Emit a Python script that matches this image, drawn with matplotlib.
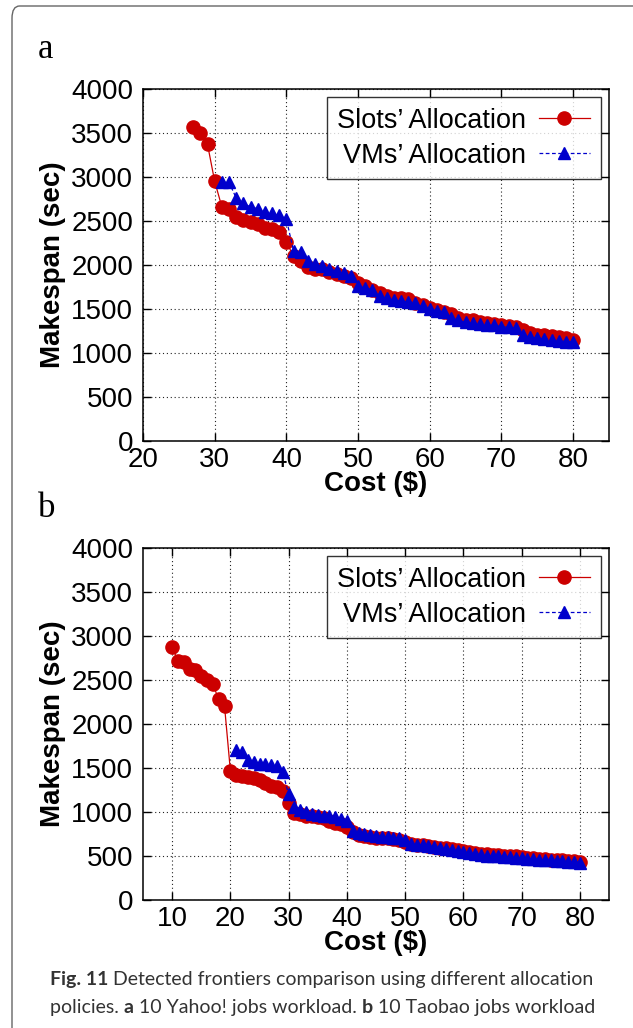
import numpy as np
import matplotlib
matplotlib.use("Agg")
from matplotlib import pyplot as plt
from matplotlib.patches import FancyBboxPatch

# panel a: 10 Yahoo! jobs workload
cost_slots_a = list(range(27, 81))
span_slots_a = [3570, 3500, 3370, 2950, 2660, 2640, 2545, 2510, 2490, 2470,
                2415, 2405, 2370, 2260, 2100, 2040, 1980, 1960, 1950, 1920,
                1900, 1880, 1850, 1790, 1760, 1720, 1680, 1650, 1630, 1620,
                1610, 1570, 1540, 1510, 1490, 1470, 1440, 1400, 1380, 1370,
                1355, 1345, 1330, 1320, 1310, 1290, 1260, 1230, 1210, 1200,
                1195, 1185, 1175, 1150]
cost_vms_a = list(range(31, 81))
span_vms_a = [2940, 2940, 2760, 2700, 2660, 2640, 2600, 2590, 2565, 2520,
              2160, 2150, 2040, 2010, 1990, 1960, 1930, 1910, 1880, 1760,
              1740, 1720, 1650, 1620, 1600, 1590, 1580, 1570, 1530, 1500,
              1480, 1470, 1400, 1370, 1350, 1340, 1330, 1320, 1315, 1300,
              1290, 1280, 1200, 1180, 1170, 1160, 1150, 1140, 1130, 1130]

# panel b: 10 Taobao jobs workload
cost_slots_b = list(range(10, 81))
span_slots_b = [2870, 2720, 2710, 2620, 2610, 2550, 2500, 2450, 2280, 2200,
                1470, 1420, 1410, 1400, 1390, 1360, 1330, 1300, 1280, 1240,
                1100, 990, 980, 960, 950, 940, 930, 900, 880, 860,
                830, 770, 740, 730, 720, 710, 705, 700, 690, 680,
                660, 640, 630, 620, 610, 600, 595, 590, 580, 570,
                560, 545, 535, 525, 520, 515, 510, 505, 500, 495,
                490, 480, 475, 470, 465, 460, 455, 450, 445, 440,
                430]
cost_vms_b = list(range(21, 81))
span_vms_b = [1700, 1680, 1590, 1570, 1550, 1540, 1530, 1520, 1450, 1200,
              1060, 1020, 1000, 980, 970, 960, 950, 940, 920, 900,
              780, 760, 750, 740, 730, 720, 715, 710, 700, 680,
              640, 630, 620, 610, 600, 590, 580, 570, 560, 550,
              530, 520, 510, 505, 500, 495, 490, 485, 480, 475,
              470, 465, 460, 455, 450, 445, 440, 435, 430, 425]

yticks = [0, 500, 1000, 1500, 2000, 2500, 3000, 3500, 4000]
xticks_a = [20, 30, 40, 50, 60, 70, 80]
xticks_b = [10, 20, 30, 40, 50, 60, 70, 80]

RED = "#cc0000"
BLUE = "#0000cc"
SANS = "Liberation Sans"
W, H = 633, 1028

fig = plt.figure(figsize=(6.33, 10.28), dpi=100)

# rounded page frame
frame = FancyBboxPatch((12 / W, -0.05), 1.2, 1 - 6 / H + 0.05,
                       boxstyle="round,pad=0,rounding_size=0.012",
                       transform=fig.transFigure, fill=False,
                       edgecolor="#666666", linewidth=1.0, clip_on=False)
fig.patches.append(frame)


def panel(rect, cs, ss, cv, sv, xlim, xticks, letter, letter_y):
    ax = fig.add_axes(rect)
    ax.plot(cs, ss, color=RED, lw=0.9, marker="o", ms=9.5, mec=RED,
            label="Slots\u2019 Allocation", zorder=3)
    ax.plot(cv, sv, color=BLUE, lw=0.9, ls=(0, (3, 2)), marker="^", ms=8.5,
            mec=BLUE, label="VMs\u2019 Allocation", zorder=4)
    ax.set_xlim(*xlim)
    ax.set_ylim(0, 4000)
    ax.set_xticks(xticks)
    ax.set_yticks(yticks)
    ax.grid(True, ls=(0, (1, 2.5)), color="#222222", lw=0.8)
    ax.tick_params(direction="in", length=6, width=1, top=True, right=True,
                   labelsize=20)
    ax.tick_params(axis="x", pad=4)
    ax.tick_params(axis="y", pad=7)
    for t in ax.get_xticklabels() + ax.get_yticklabels():
        t.set_family(SANS)
    for s in ax.spines.values():
        s.set_linewidth(1.1)
    ax.set_xlabel("Cost ($)", fontsize=20, fontweight="bold", family=SANS,
                  labelpad=-1)
    ax.set_ylabel("Makespan (sec)", fontsize=20, fontweight="bold",
                  family=SANS, labelpad=4)
    leg = ax.legend(loc="upper right", markerfirst=False, frameon=True,
                    fancybox=False, edgecolor="black",
                    prop={"family": SANS, "size": 19.5}, handlelength=1.9,
                    borderaxespad=0.3, labelspacing=0.32, borderpad=0.4,
                    handletextpad=0.45)
    leg.get_frame().set_linewidth(1.0)
    fig.text(38 / W, 1 - letter_y / H, letter, family="Liberation Serif",
             fontsize=25, va="baseline")
    return ax


panel([143 / W, 1 - 441 / H, 466 / W, 352 / H],
      cost_slots_a, span_slots_a, cost_vms_a, span_vms_a,
      (20, 85), xticks_a, "a", 58)
panel([143 / W, 1 - 900 / H, 466 / W, 352 / H],
      cost_slots_b, span_slots_b, cost_vms_b, span_vms_b,
      (5, 85), xticks_b, "b", 517)

# caption
cap_font = "Lato"
cap_size = 14
cap_col = "#333333"


def caption_line(y, parts):
    x = 50
    for s, w in parts:
        tt = fig.text(x / W, 1 - y / H, s, family=cap_font, fontsize=cap_size,
                      fontweight=w, color=cap_col)
        fig.canvas.draw()
        x = tt.get_window_extent().x1


caption_line(985, [("Fig. 11", "bold"),
                   (" Detected frontiers comparison using different allocation",
                    "normal")])
caption_line(1013, [("policies. ", "normal"), ("a", "bold"),
                    (" 10 Yahoo! jobs workload. ", "normal"), ("b", "bold"),
                    (" 10 Taobao jobs workload", "normal")])

fig.savefig("out.png", dpi=100)
